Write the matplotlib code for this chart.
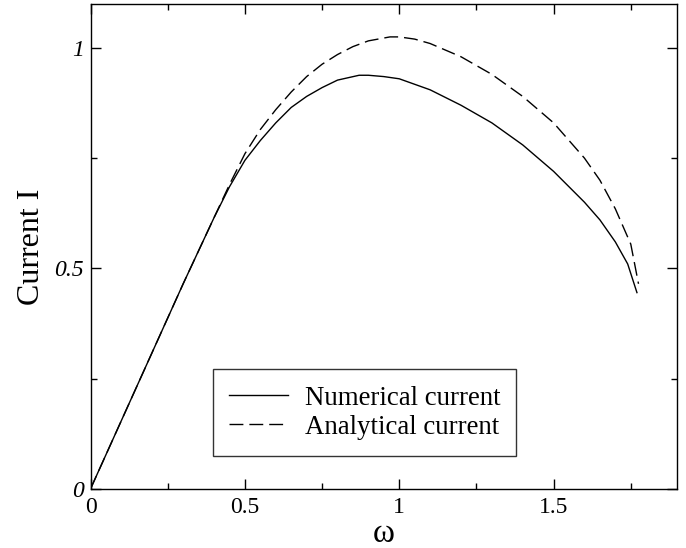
import numpy as np
import matplotlib
matplotlib.use("Agg")
import matplotlib.pyplot as plt
from matplotlib.ticker import MultipleLocator, FuncFormatter

# valeurs
omega_num = [0, 0.1, 0.2, 0.3, 0.4, 0.45, 0.5, 0.55, 0.6, 0.65, 0.7, 0.75, 0.8, 0.87, 0.9, 0.95, 1.0,
             1.1, 1.2, 1.3, 1.4, 1.5, 1.6, 1.65, 1.7, 1.74, 1.77]
I_num = [0, 0.155, 0.31, 0.465, 0.615, 0.685, 0.745, 0.79, 0.83, 0.865, 0.89, 0.91, 0.927, 0.938, 0.938, 0.935, 0.93,
         0.905, 0.87, 0.83, 0.78, 0.72, 0.65, 0.61, 0.56, 0.51, 0.445]

omega_ana = [0, 0.1, 0.2, 0.3, 0.4, 0.45, 0.5, 0.55, 0.6, 0.65, 0.7, 0.75, 0.8, 0.85, 0.9, 0.97, 1.0, 1.05,
             1.1, 1.2, 1.3, 1.4, 1.5, 1.6, 1.65, 1.7, 1.75, 1.775]
I_ana = [0, 0.155, 0.31, 0.465, 0.615, 0.69, 0.76, 0.815, 0.86, 0.90, 0.935, 0.963, 0.985, 1.003, 1.016, 1.025, 1.025, 1.02,
         1.01, 0.98, 0.94, 0.89, 0.83, 0.75, 0.70, 0.635, 0.555, 0.465]

labels = ["Numerical current", "Analytical current"]

plt.rcParams['font.family'] = ['Liberation Serif', 'DejaVu Serif']

fig = plt.figure(figsize=(6.86, 5.48), dpi=100)
ax = fig.add_axes([0.132, 0.108, 0.855, 0.885])

ax.plot(omega_num, I_num, color='black', lw=1.0, label=labels[0])
ax.plot(omega_ana, I_ana, color='black', lw=1.0, ls=(0, (10, 4.3)), label=labels[1])

ax.set_xlim(0, 1.9)
ax.set_ylim(0, 1.1)

ax.xaxis.set_major_locator(MultipleLocator(0.5))
ax.xaxis.set_minor_locator(MultipleLocator(0.25))
ax.yaxis.set_major_locator(MultipleLocator(0.5))
ax.yaxis.set_minor_locator(MultipleLocator(0.25))
fmt = FuncFormatter(lambda v, p: ('%g' % v))
ax.xaxis.set_major_formatter(fmt)
ax.yaxis.set_major_formatter(fmt)

ax.tick_params(which='both', direction='in', top=True, right=True, width=1)
ax.tick_params(which='major', length=7, labelsize=17)
ax.tick_params(axis='x', which='major', pad=6)
ax.tick_params(axis='y', which='major', pad=5)
ax.tick_params(which='minor', length=4)
for t in ax.get_yticklabels():
    t.set_style('italic')

for s in ax.spines.values():
    s.set_linewidth(1)

ax.set_xlabel('ω', fontsize=24, labelpad=0)
ax.set_ylabel('Current I', fontsize=23, labelpad=6)

leg = ax.legend(loc='lower left', bbox_to_anchor=(0.2086, 0.068), borderaxespad=0,
                fontsize=19.4, frameon=True, fancybox=False, handlelength=2.2,
                borderpad=0.6, labelspacing=0.15, handletextpad=0.6)
leg.get_frame().set_edgecolor('black')
leg.get_frame().set_linewidth(1)

fig.savefig('out.png', dpi=100)
